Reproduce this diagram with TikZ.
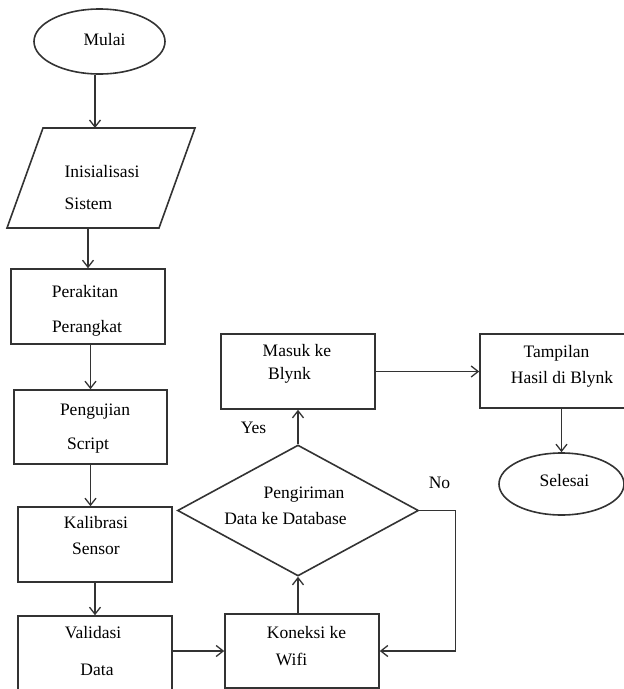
\documentclass[tikz,border=0pt]{standalone}
\usepackage{fontspec}
\setmainfont{Liberation Serif}
\usetikzlibrary{arrows.meta,shapes.geometric}
\begin{document}
\begin{tikzpicture}[x=1pt,y=-1pt,
  line/.style={draw=black!80, line width=1.6pt},
  arr/.style={line, -{Straight Barb[length=7pt,width=11pt,line width=1.3pt]}},
  box/.style={draw=black!80, line width=1.6pt, rectangle, inner sep=0pt},
  oval/.style={draw=black!80, line width=1.6pt, ellipse, inner sep=0pt},
  txt/.style={font=\fontsize{17.5}{20}\selectfont, inner sep=0pt, anchor=base, text=black}
]
\useasboundingbox (0,0) rectangle (624,689);
\clip (0,0) rectangle (624,689);
% shapes
\node[oval, minimum width=131pt, minimum height=65pt] (mulai) at (99.5,41.5) {};
\draw[line] (43,128) -- (195,128) -- (159,228) -- (7,228) -- cycle;
\coordinate (initTop) at (95,128);
\coordinate (initBot) at (88,228);
\node[box, minimum width=154pt, minimum height=75pt] (rakit) at (88,306.5) {};
\node[box, minimum width=153pt, minimum height=74pt] (uji) at (90.5,427) {};
\node[box, minimum width=154pt, minimum height=75pt] (kal) at (95,544.5) {};
\node[box, minimum width=154pt, minimum height=84pt] (val) at (95,658) {};
\node[box, minimum width=154pt, minimum height=74pt] (kon) at (302,651) {};
\node[box, minimum width=154pt, minimum height=75pt] (masuk) at (298,371.5) {};
\node[box, minimum width=160pt, minimum height=74pt] (tampil) at (560,371) {};
\node[oval, minimum width=125pt, minimum height=62pt] (selesai) at (561.5,484) {};
\node[draw=black!80, line width=1.6pt, diamond, inner sep=0pt, aspect=1.84,
      minimum width=241pt, minimum height=131pt] (dec) at (298,510.5) {};
% texts
\node[txt] (t1) at (104.5,45) {Mulai};
\node[txt] (t2) at (102,177) {Inisialisasi};
\node[txt] (t3) at (88.5,209) {Sistem};
\node[txt] (t4) at (85,297) {Perakitan};
\node[txt] (t5) at (87,332) {Perangkat};
\node[txt] (t6) at (95,415) {Pengujian};
\node[txt] (t7) at (88,449) {Script};
\node[txt] (t8) at (96,528) {Kalibrasi};
\node[txt] (t9) at (96,554) {Sensor};
\node[txt] (t10) at (93,638) {Validasi};
\node[txt] (t11) at (97,675) {Data};
\node[txt] (t12) at (297,356) {Masuk ke};
\node[txt] (t13) at (289.5,379) {Blynk};
\node[txt] (t14) at (253.5,433) {Yes};
\node[txt] (t15) at (304,498) {Pengiriman};
\node[txt] (t16) at (285.5,524) {Data ke Database};
\node[txt] (t17) at (439.5,488) {No};
\node[txt] (t18) at (306.5,638) {Koneksi ke};
\node[txt] (t19) at (291.5,665) {Wifi};
\node[txt] (t20) at (556.5,357) {Tampilan};
\node[txt] (t21) at (562,383) {Hasil di Blynk};
\node[txt] (t22) at (564.5,486) {Selesai};
% connectors
\draw[arr] (mulai.south -| initTop) -- (initTop);
\draw[arr] (initBot) -- (initBot |- rakit.north);
\draw[arr] (uji.north |- rakit.south) -- (uji.north);
\draw[arr] (uji.south) -- (uji.south |- kal.north);
\draw[arr] (kal.south) -- (val.north);
\draw[arr] (val.east |- kon.west) -- (kon.west);
\draw[arr] (dec.south |- kon.north) -- (dec.south);
\draw[arr] (dec.north) -- (dec.north |- masuk.south);
\draw[arr] (masuk.east) -- (masuk.east -| tampil.west);
\draw[arr] (selesai.north |- tampil.south) -- (selesai.north);
\draw[arr] (dec.east) -- ++(36,0) |- (kon.east);
\end{tikzpicture}
\end{document}
